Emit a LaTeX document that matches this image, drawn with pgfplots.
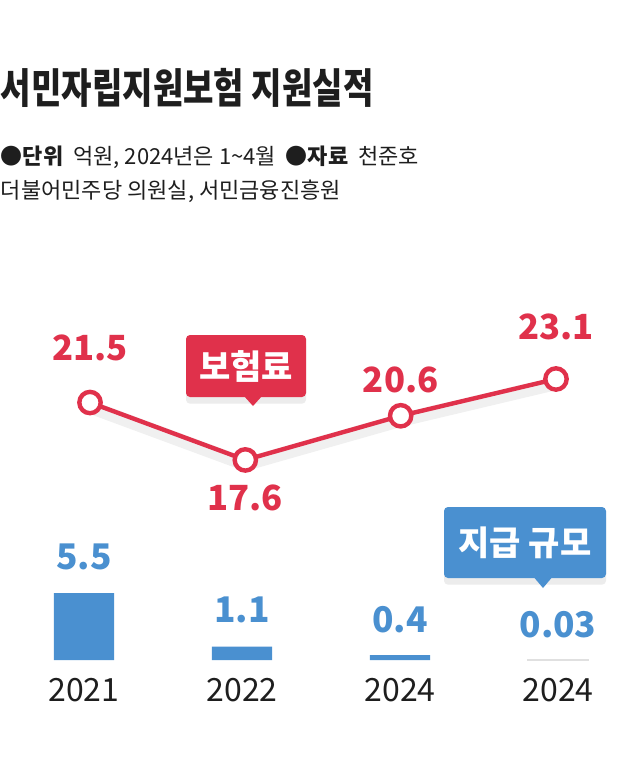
\documentclass[border=0pt]{standalone}
\usepackage{fontspec}
\setmainfont{Noto Sans CJK KR}
\usepackage{graphicx}
\usepackage{pgfplots}
\pgfplotsset{compat=1.18}
\usetikzlibrary{shadows}
\definecolor{cred}{HTML}{E0314B}
\definecolor{cblue}{HTML}{4A90D0}
\definecolor{ctext}{HTML}{1E1E1E}
\begin{document}
\begin{tikzpicture}
\path[use as bounding box, fill=white] (0,0) rectangle (480pt,-567.75pt);
% title
\node[anchor=west, inner sep=0, text=ctext] at (0.5pt,-65.6pt) {\scalebox{0.8}[1]{\fontsize{31pt}{33pt}\selectfont\bfseries 서민자립지원보험 지원실적}};
\node[anchor=west, inner sep=0, text=ctext] at (0.5pt,-118pt) {\fontsize{16.5pt}{19pt}\selectfont {\bfseries ●단위}\ \ 억원, 2024년은 1\char`\~4월\ \ {\bfseries ●자료}\ \ 천준호};
\node[anchor=west, inner sep=0, text=ctext] at (0.5pt,-143.5pt) {\fontsize{16.5pt}{19pt}\selectfont 더불어민주당 의원실, 서민금융진흥원};

% bars
\begin{axis}[at={(3.75pt,-495pt)}, anchor=south west, scale only axis,
  width=474pt, height=54.75pt, xmin=-0.5, xmax=3.5, ymin=0, ymax=6,
  hide axis, clip=false]
\addplot[ybar, bar width=0.38, bar shift=0pt, fill=cblue, draw=none]
  coordinates {(0,5.5) (1,1.1) (2,0.4)};
\addplot[ybar, bar width=0.38, bar shift=0pt, fill=black!12, draw=black!12, line width=1pt]
  coordinates {(3,0.03)};
\begin{scope}[every node/.style={font=\fontsize{26.5pt}{30pt}\selectfont\bfseries, text=cblue, anchor=center}]
\node at (axis cs:0,5.5) [yshift=27pt] {5.5};
\node at (axis cs:1,1.1) [yshift=27.5pt] {1.1};
\node at (axis cs:2,0.4) [yshift=26.5pt] {0.4};
\node at (axis cs:3,0.03) [yshift=26pt] {0.03};
\end{scope}
\begin{scope}[every node/.style={font=\fontsize{24pt}{28pt}\selectfont, text=ctext, anchor=center}]
\node at (axis cs:0,0) [yshift=-22.5pt] {2021};
\node at (axis cs:1,0) [yshift=-22.5pt] {2022};
\node at (axis cs:2,0) [yshift=-22.5pt] {2024};
\node at (axis cs:3,0) [yshift=-22.5pt] {2024};
\end{scope}
\end{axis}

% line
\begin{axis}[at={(9.25pt,-362.6pt)}, anchor=south west, scale only axis,
  width=466pt, height=88.3pt, xmin=-0.5, xmax=3.5, ymin=16, ymax=24,
  hide axis, clip=false]
\addplot[black, opacity=0.06, line width=10pt, forget plot]
  coordinates {(0,21.2) (1,17.3) (2,20.3) (3,22.8)};
\addplot[cred, line width=3.3pt, mark=*, mark size=8pt,
  mark options={fill=white, draw=cred, line width=3.3pt}]
  coordinates {(0,21.5) (1,17.6) (2,20.6) (3,23.1)};
\begin{scope}[every node/.style={font=\fontsize{26pt}{30pt}\selectfont\bfseries, text=cred, anchor=center}]
\node at (axis cs:0,21.5) [yshift=41pt] {21.5};
\node at (axis cs:1,17.6) [yshift=-28.5pt] {17.6};
\node at (axis cs:2,20.6) [yshift=27pt] {20.6};
\node at (axis cs:3,23.1) [yshift=39pt] {23.1};
\end{scope}
\end{axis}

% callouts
\fill[cred, rounded corners=3pt, drop shadow={opacity=0.15, shadow xshift=0pt, shadow yshift=-5pt}]
  (139.5pt,-251.25pt) rectangle (229.5pt,-297.75pt);
\fill[cred] (183pt,-297pt) -- (189.75pt,-304.5pt) -- (196.5pt,-297pt) -- cycle;
\node[text=white, font=\fontsize{25.5pt}{28pt}\selectfont\bfseries, anchor=center] at (184.5pt,-274.5pt) {보험료};

\fill[cblue, rounded corners=3pt, drop shadow={opacity=0.15, shadow xshift=0pt, shadow yshift=-5pt}]
  (333pt,-380.25pt) rectangle (454.5pt,-433.5pt);
\fill[cblue] (400.5pt,-433pt) -- (407.25pt,-441pt) -- (414pt,-433pt) -- cycle;
\node[text=white, font=\fontsize{25.5pt}{28pt}\selectfont\bfseries, anchor=center] at (393.75pt,-407.25pt) {지급 규모};
\end{tikzpicture}
\end{document}
